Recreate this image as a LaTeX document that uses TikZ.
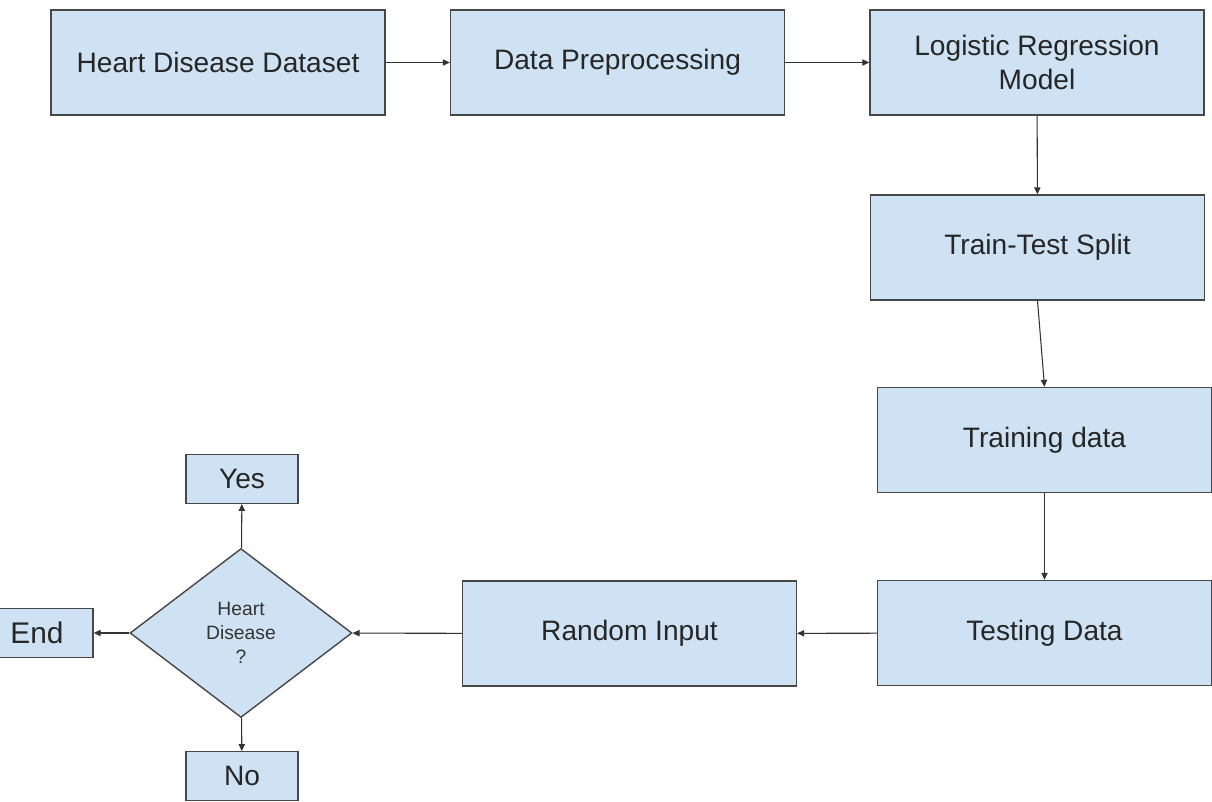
\documentclass[tikz,border=0pt]{standalone}
\usepackage{fontspec}
\setmainfont{Liberation Sans}
\usetikzlibrary{arrows.meta,shapes.geometric}
\definecolor{HDFill}{HTML}{CFE2F3}
\definecolor{HDLine}{HTML}{474747}
\definecolor{HDArrow}{HTML}{333333}

\begin{document}
\begin{tikzpicture}[x=0.02cm,y=-0.02cm,
    box/.style={draw=HDLine,fill=HDFill,line width=0.8pt,minimum width=6.68cm,
      minimum height=2.1cm,align=center,text=black!85,
      font=\fontsize{16}{19}\selectfont},
    small/.style={box,minimum width=2.24cm,minimum height=0.97cm},
    decision/.style={draw=HDLine,fill=HDFill,line width=0.8pt,shape=diamond,
      minimum width=4.44cm,minimum height=3.38cm,inner sep=0pt,align=center,
      text=black!80,font=\fontsize{11}{13.5}\selectfont},
    flow/.style={-{Triangle[length=4pt,width=3.6pt]},HDArrow,line width=0.6pt}]
  \useasboundingbox (0,0) rectangle (1212,801);
  % top row
  \node[box] (data)  at (218,62.5)  {Heart Disease Dataset};
  \node[box] (prep)  at (617.5,62.5) {Data Preprocessing};
  \node[box] (model) at (1037,62.5) {Logistic Regression\\Model};
  % right column
  \node[box] (split) at (1037.5,247.5) {Train-Test Split};
  \node[box] (train) at (1044.5,440) {Training data};
  \node[box] (test)  at (1044.5,633) {Testing Data};
  % bottom row
  \node[box] (rand)  at (629.5,633.5) {Random Input};
  \node[decision] (dec) at (241,633) {Heart\\Disease\\?};
  \node[small] (yes) at (242,479) {Yes};
  \node[small] (no)  at (242,776) {No};
  \node[small,font=\fontsize{17}{19}\selectfont] (end) at (37,633) {End};
  % connectors
  \draw[flow] (data) -- (prep);
  \draw[flow] (prep) -- (model);
  \draw[flow] (model) -- (split);
  \draw[flow] (split.south) -- (train.north);
  \draw[flow] (train) -- (test);
  \draw[flow] (test) -- (rand);
  \draw[flow] (rand) -- (dec);
  \draw[flow] (dec) -- (end);
  \draw[flow] (dec) -- (yes);
  \draw[flow] (dec) -- (no);
\end{tikzpicture}
\end{document}
